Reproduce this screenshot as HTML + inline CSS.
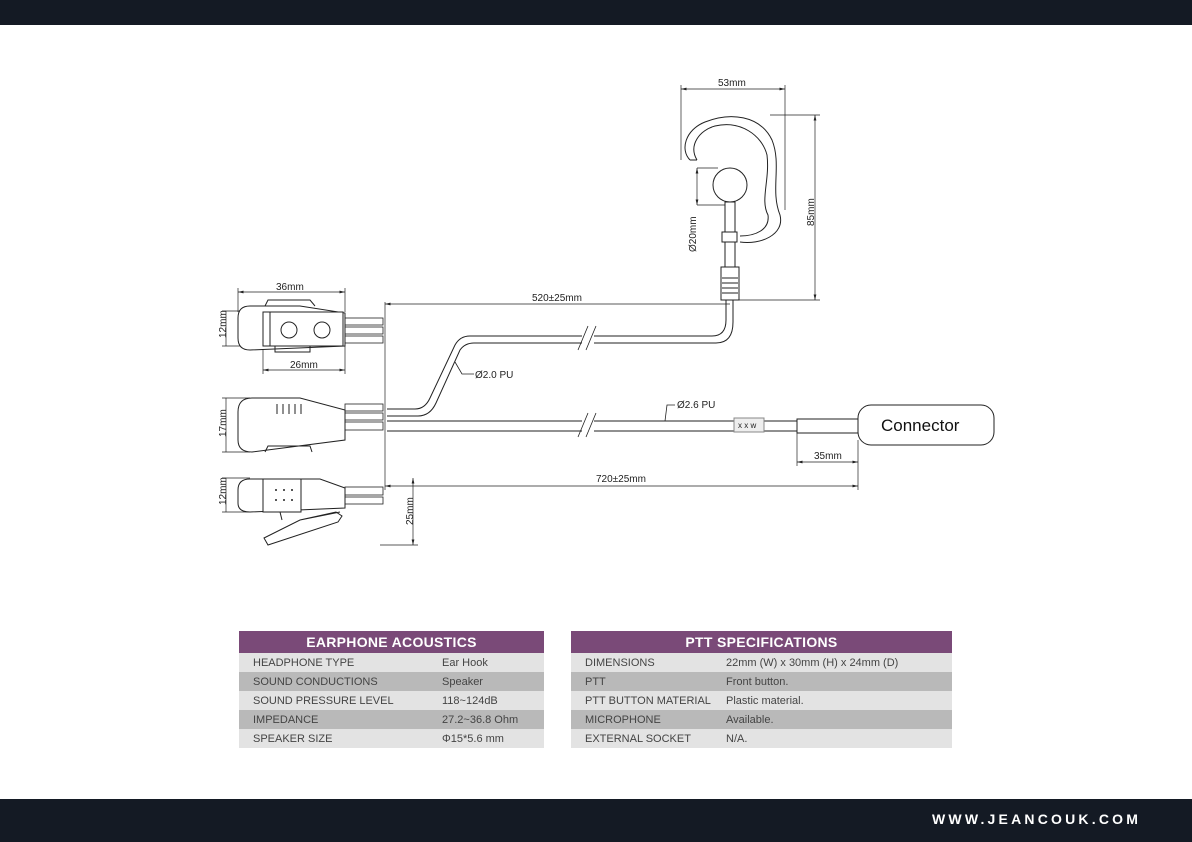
<!DOCTYPE html>
<html><head><meta charset="utf-8"><style>
body{margin:0;width:1192px;height:842px;background:#fff;position:relative;overflow:hidden;font-family:"Liberation Sans",sans-serif}
.bar{position:absolute;left:0;width:1192px;background:#141a24}
table{position:absolute;border-collapse:collapse;font-family:"Liberation Sans",sans-serif;font-size:11px;color:#444}
th{background:#7a4a78;color:#fff;font-size:14px;font-weight:bold;height:22px;padding:0;letter-spacing:0.3px}
td{height:19px;padding:0 0 0 14px;white-space:nowrap}
tr.l td{background:#e3e3e3}
tr.d td{background:#b9b9b9}
</style></head><body>
<div class="bar" style="top:0;height:25px"></div>
<div class="bar" style="top:799px;height:43px"></div>
<div style="position:absolute;left:932px;top:811px;color:#fff;font-size:14px;font-weight:bold;letter-spacing:3.2px">WWW.JEANCOUK.COM</div>

<svg width="1192" height="842" style="position:absolute;left:0;top:0" font-family="Liberation Sans, sans-serif" font-size="10" fill="none" stroke="#222" stroke-width="1">
<defs><marker id="a" markerWidth="8" markerHeight="6" refX="8" refY="3" orient="auto-start-reverse"><path d="M0,1 L8,3 L0,5z" fill="#222" stroke="none"/></marker></defs>
<g stroke-width="0.7">
<line x1="238" y1="292" x2="345" y2="292" marker-start="url(#a)" marker-end="url(#a)"/>
<line x1="238" y1="288" x2="238" y2="312"/><line x1="345" y1="288" x2="345" y2="312"/>
<text x="276" y="290" fill="#222" stroke="none">36mm</text>
<line x1="263" y1="370" x2="345" y2="370" marker-start="url(#a)" marker-end="url(#a)"/>
<line x1="263" y1="340" x2="263" y2="374"/><line x1="345" y1="345" x2="345" y2="374"/>
<text x="290" y="368" fill="#222" stroke="none">26mm</text>
<line x1="226" y1="311" x2="226" y2="346"/><line x1="222" y1="311" x2="250" y2="311"/><line x1="222" y1="346" x2="250" y2="346"/>
<text transform="translate(226,338) rotate(-90)" fill="#222" stroke="none">12mm</text>
<line x1="226" y1="398" x2="226" y2="452"/><line x1="222" y1="398" x2="250" y2="398"/><line x1="222" y1="452" x2="250" y2="452"/>
<text transform="translate(226,437) rotate(-90)" fill="#222" stroke="none">17mm</text>
<line x1="226" y1="478" x2="226" y2="512"/><line x1="222" y1="478" x2="250" y2="478"/><line x1="222" y1="512" x2="250" y2="512"/>
<text transform="translate(226,505) rotate(-90)" fill="#222" stroke="none">12mm</text>
<line x1="385" y1="302" x2="385" y2="490"/>
<line x1="385" y1="304" x2="730" y2="304" marker-start="url(#a)"/>
<text x="532" y="301" fill="#222" stroke="none">520±25mm</text>
<line x1="385" y1="486" x2="858" y2="486" marker-start="url(#a)" marker-end="url(#a)"/>
<text x="596" y="482" fill="#222" stroke="none">720±25mm</text>
<line x1="858" y1="440" x2="858" y2="490"/>
<line x1="797" y1="432" x2="797" y2="466"/>
<line x1="797" y1="462" x2="858" y2="462" marker-start="url(#a)" marker-end="url(#a)"/>
<text x="814" y="459" fill="#222" stroke="none">35mm</text>
<line x1="413" y1="478" x2="413" y2="545" marker-start="url(#a)" marker-end="url(#a)"/>
<line x1="380" y1="545" x2="418" y2="545"/>
<text transform="translate(413,525) rotate(-90)" fill="#222" stroke="none">25mm</text>
<line x1="681" y1="89" x2="785" y2="89" marker-start="url(#a)" marker-end="url(#a)"/>
<line x1="681" y1="85" x2="681" y2="160"/><line x1="785" y1="85" x2="785" y2="210"/>
<text x="718" y="86" fill="#222" stroke="none">53mm</text>
<line x1="815" y1="115" x2="815" y2="300" marker-start="url(#a)" marker-end="url(#a)"/>
<line x1="770" y1="115" x2="820" y2="115"/><line x1="735" y1="300" x2="820" y2="300"/>
<text transform="translate(814,226) rotate(-90)" fill="#222" stroke="none">85mm</text>
<line x1="697" y1="168" x2="697" y2="205" marker-start="url(#a)" marker-end="url(#a)"/>
<line x1="697" y1="168" x2="718" y2="168"/><line x1="697" y1="205" x2="725" y2="205"/>
<text transform="translate(696,252) rotate(-90)" fill="#222" stroke="none">Ø20mm</text>
</g>
<path d="M690,160 C680,150 685,130 705,122 C730,112 760,115 772,140 C782,165 770,190 780,215 C785,235 760,245 740,242"/>
<path d="M697,160 C688,145 700,130 715,126 C740,120 762,135 767,155 C770,180 760,200 768,215 C770,230 755,236 740,236"/>
<path d="M690,160 L697,160"/>
<circle cx="730" cy="185" r="17" fill="#fff"/>
<rect x="725" y="202" width="10" height="30" fill="#fff"/>
<rect x="722" y="232" width="15" height="10" fill="#fff"/>
<rect x="725" y="242" width="10" height="25" fill="#fff"/>
<rect x="721" y="267" width="18" height="33" fill="#fff"/>
<path d="M722,278 h16 M722,283 h16 M722,288 h16 M722,293 h16"/>
<path d="M387,409 L415,409 Q425,409 430,398 L455,345 Q460,336 470,336 L712,336 Q726,336 726,320 L726,300"/>
<path d="M387,416 L418,416 Q430,416 436,403 L460,350 Q465,343 474,343 L716,343 Q733,343 733,322 L733,300"/>
<path d="M387,421 L858,421 M387,431 L858,431"/>
<rect x="734" y="418" width="30" height="14" fill="#eee" stroke="#888"/>
<text x="738" y="428" font-size="8" fill="#222" stroke="none">x x w</text>
<rect x="797" y="419" width="61" height="14" fill="#fff"/>
<rect x="858" y="405" width="136" height="40" rx="13" fill="#fff"/>
<text x="881" y="431" font-size="17" fill="#111" stroke="none">Connector</text>
<g fill="#fff" stroke="none"><rect x="582" y="325" width="12" height="26"/><rect x="582" y="412" width="12" height="26"/></g>
<path d="M578,350 L588,326 M586,350 L596,326 M578,437 L588,413 M586,437 L596,413" stroke-width="0.8"/>
<path d="M455,362 L462,374 L474,374" stroke-width="0.8"/>
<text x="475" y="378" fill="#222" stroke="none" font-size="10">Ø2.0 PU</text>
<path d="M665,421 L667,405 L675,405" stroke-width="0.8"/>
<text x="677" y="408" fill="#222" stroke="none" font-size="10">Ø2.6 PU</text>
<path d="M250,306 Q238,306 238,318 L238,338 Q238,350 250,350 L345,346 L345,313 L300,306 Z" fill="#fff"/>
<path d="M265,306 L268,300 L310,300 L315,306"/>
<rect x="263" y="312" width="80" height="34" fill="#fff"/>
<path d="M263,312 L263,346 M270,312 L270,346"/>
<circle cx="289" cy="330" r="8"/><circle cx="322" cy="330" r="8"/>
<path d="M275,346 L275,352 L310,352 L310,346"/>
<path d="M252,398 Q238,398 238,412 L238,440 Q238,452 252,452 L345,440 L345,410 L300,398 Z" fill="#fff"/>
<path d="M277,404 v10 M283,404 v10 M289,404 v10 M295,404 v10 M301,404 v10"/>
<path d="M265,452 L268,446 L310,446 L312,452"/>
<path d="M250,479 Q238,479 238,490 L238,503 Q238,512 250,512 L345,508 L345,488 L320,479 Z" fill="#fff"/>
<rect x="263" y="479" width="38" height="33" fill="#fff"/>
<g fill="#222" stroke="none"><circle cx="276" cy="490" r="1"/><circle cx="284" cy="490" r="1"/><circle cx="292" cy="490" r="1"/><circle cx="276" cy="500" r="1"/><circle cx="284" cy="500" r="1"/><circle cx="292" cy="500" r="1"/></g>
<path d="M268,545 L338,522 L342,516 L336,512 L300,520 L264,538 Z M280,512 L282,520 M300,520 L340,512"/>
<g stroke-width="0.8">
<rect x="345" y="318" width="38" height="7"/><rect x="345" y="327" width="38" height="7"/><rect x="345" y="336" width="38" height="7"/>
<rect x="345" y="404" width="38" height="7"/><rect x="345" y="413" width="38" height="7"/><rect x="345" y="422" width="38" height="8"/>
<rect x="345" y="487" width="38" height="8"/><rect x="345" y="497" width="38" height="7"/>
</g>
</svg>

<table style="left:239px;top:631px;width:305px">
<tr><th colspan="2">EARPHONE ACOUSTICS</th></tr>
<tr class="l"><td style="width:175px">HEADPHONE TYPE</td><td>Ear Hook</td></tr>
<tr class="d"><td>SOUND CONDUCTIONS</td><td>Speaker</td></tr>
<tr class="l"><td>SOUND PRESSURE LEVEL</td><td>118~124dB</td></tr>
<tr class="d"><td>IMPEDANCE</td><td>27.2~36.8 Ohm</td></tr>
<tr class="l"><td>SPEAKER SIZE</td><td>Φ15*5.6 mm</td></tr>
</table>
<table style="left:571px;top:631px;width:381px">
<tr><th colspan="2">PTT SPECIFICATIONS</th></tr>
<tr class="l"><td style="width:127px">DIMENSIONS</td><td>22mm (W) x 30mm (H) x 24mm (D)</td></tr>
<tr class="d"><td>PTT</td><td>Front button.</td></tr>
<tr class="l"><td>PTT BUTTON MATERIAL</td><td>Plastic material.</td></tr>
<tr class="d"><td>MICROPHONE</td><td>Available.</td></tr>
<tr class="l"><td>EXTERNAL SOCKET</td><td>N/A.</td></tr>
</table>
</body></html>
